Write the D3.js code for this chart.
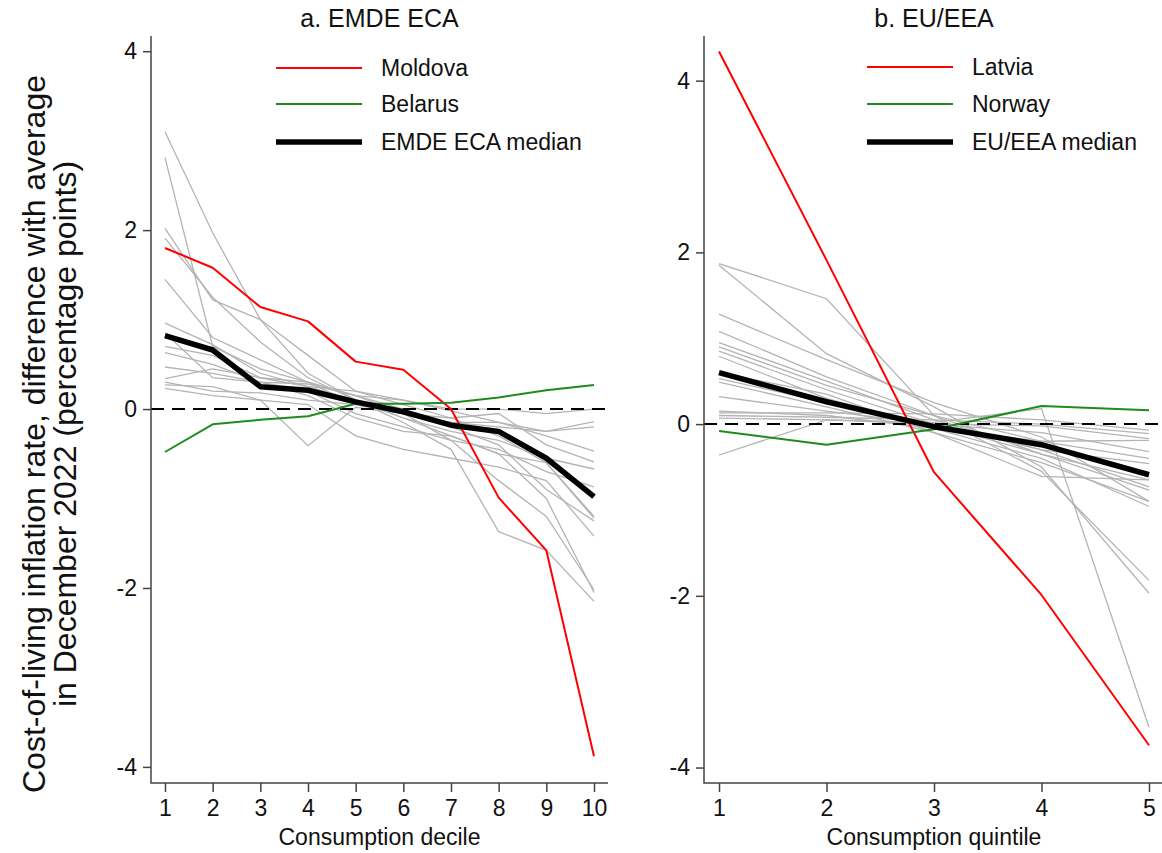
<!DOCTYPE html>
<html>
<head>
<meta charset="utf-8">
<script src="https://cdn.jsdelivr.net/npm/d3@7"></script>
<style>
  body { margin: 0; background: #fff; }
  svg { display: block; font-family: "Liberation Sans", Arial, sans-serif; }
</style>
</head>
<body>
<svg id="chart" width="1162" height="853"></svg>
<script>
// ---- data ----
const deciles = [1, 2, 3, 4, 5, 6, 7, 8, 9, 10];
const quintiles = [1, 2, 3, 4, 5];
const yTicks = [-4, -2, 0, 2, 4];

// panel a: EMDE ECA
const moldova = [1.80, 1.58, 1.14, 0.98, 0.53, 0.44, 0.00, -0.99, -1.58, -3.88];
const belarus = [-0.48, -0.17, -0.12, -0.08, 0.06, 0.06, 0.07, 0.13, 0.21, 0.27];
const ecaMedian = [0.82, 0.66, 0.25, 0.21, 0.08, -0.03, -0.18, -0.25, -0.55, -0.98];
const ecaOthers = [
  [3.10, 1.97, 1.00, 0.40, 0.10, -0.10, -0.30, -0.50, -1.00, -2.05],
  [2.81, 0.70, 0.45, 0.30, 0.15, 0.00, -0.20, -0.40, -0.90, -1.25],
  [2.02, 1.22, 1.00, 0.60, 0.20, 0.05, -0.10, -0.30, -0.60, -1.20],
  [1.91, 1.25, 0.75, 0.35, 0.10, -0.15, -0.45, -1.37, -1.58, -2.15],
  [1.45, 0.80, 0.55, 0.30, 0.15, -0.05, -0.35, -0.80, -1.20, -2.02],
  [0.96, 0.72, 0.40, 0.25, 0.20, 0.10, -0.02, -0.15, -0.25, -0.14],
  [0.70, 0.60, 0.35, 0.30, 0.05, -0.05, -0.15, -0.15, -0.30, -0.47],
  [0.63, 0.50, 0.30, 0.28, 0.15, 0.10, 0.00, 0.00, -0.05, 0.00],
  [0.47, 0.40, 0.30, 0.20, -0.05, -0.20, -0.35, -0.45, -0.70, -0.87],
  [0.34, 0.45, 0.35, 0.25, 0.10, -0.10, -0.25, -0.35, -0.55, -0.67],
  [0.27, 0.25, 0.10, -0.41, 0.02, -0.05, -0.15, -0.20, -0.25, -0.20],
  [0.23, 0.15, 0.10, 0.05, -0.30, -0.45, -0.55, -0.65, -0.80, -1.42],
  [0.30, 0.20, 0.18, 0.10, 0.05, -0.05, -0.10, -0.05, -0.40, -0.59],
  [0.85, 0.35, 0.30, 0.15, -0.10, -0.25, -0.30, -0.50, -0.60, -1.22]
];

// panel b: EU/EEA
const latvia = [4.34, 1.91, -0.56, -1.99, -3.74];
const norway = [-0.08, -0.24, -0.06, 0.21, 0.16];
const euMedian = [0.60, 0.26, -0.03, -0.24, -0.59];
const euOthers = [
  [1.87, 1.46, 0.10, -0.20, -0.40],
  [1.85, 0.82, 0.20, -0.50, -1.97],
  [1.28, 0.75, 0.25, -0.15, -0.90],
  [1.08, 0.55, 0.10, -0.35, -0.65],
  [0.95, 0.50, 0.05, -0.30, -0.73],
  [0.90, 0.45, 0.10, -0.55, -1.82],
  [0.85, 0.40, 0.00, -0.35, -0.77],
  [0.79, 0.30, -0.05, -0.40, -0.96],
  [0.53, 0.25, 0.00, -0.30, -0.46],
  [0.49, 0.20, -0.10, -0.61, -0.65],
  [0.32, 0.15, 0.00, -0.10, -0.32],
  [0.13, 0.13, 0.12, 0.05, -0.07],
  [0.10, 0.08, 0.05, 0.00, -0.11],
  [0.07, 0.05, 0.02, 0.18, -3.53],
  [-0.36, 0.05, 0.00, -0.02, -0.17],
  [0.15, 0.10, -0.05, -0.20, -0.19],
  [0.60, 0.35, -0.10, -0.45, -0.90]
];

const svg = d3.select("#chart");
const RED = "#ff0000", GREEN = "#1f8b1f", GREY = "#b4b4b4";
const fmt = d => String(d);

function panel(opt) {
  const g = svg.append("g");
  const x = d3.scaleLinear().domain([opt.cats[0], opt.cats[opt.cats.length - 1]]).range(opt.xr);
  const y = d3.scaleLinear().domain(opt.yd).range([783, 36]);
  const left = opt.xr[0] - opt.pad, right = opt.xr[1] + opt.pad;

  const line = d3.line().x((d, i) => x(opt.cats[i])).y(d => y(d));

  // grey country lines
  g.append("g").selectAll("path").data(opt.others).join("path")
    .attr("d", line).attr("fill", "none")
    .attr("stroke", GREY).attr("stroke-width", 1.3);

  // zero reference
  g.append("line")
    .attr("x1", left).attr("x2", opt.zeroEnd)
    .attr("y1", y(0)).attr("y2", y(0))
    .attr("stroke", "#000").attr("stroke-width", 2)
    .attr("stroke-dasharray", "13,8");

  const hl = [
    { v: opt.red, c: RED, w: 2 },
    { v: opt.green, c: GREEN, w: 2 },
    { v: opt.median, c: "#000", w: 5.5 }
  ];
  g.append("g").selectAll("path").data(hl).join("path")
    .attr("d", d => line(d.v)).attr("fill", "none")
    .attr("stroke", d => d.c).attr("stroke-width", d => d.w)
    .attr("stroke-linejoin", "round");

  // axes
  const ya = g.append("g").attr("transform", `translate(${left},0)`)
    .call(d3.axisLeft(y).tickValues(yTicks).tickSize(8).tickPadding(6).tickFormat(fmt));
  ya.select(".domain").remove();
  const xa = g.append("g").attr("transform", "translate(0,783)")
    .call(d3.axisBottom(x).tickValues(opt.cats).tickSize(9).tickPadding(8).tickFormat(fmt));
  xa.select(".domain").remove();
  [ya, xa].forEach(a => {
    a.selectAll(".tick line").attr("stroke", "#444").attr("stroke-width", 1.5);
    a.selectAll("text").attr("font-size", 23).attr("fill", "#111").attr("font-family", null);
  });
  g.append("path")
    .attr("d", `M${left},36V783H${right}`)
    .attr("fill", "none").attr("stroke", "#444").attr("stroke-width", 1.5);

  // titles
  g.append("text").attr("x", (left + right) / 2).attr("y", 27)
    .attr("text-anchor", "middle").attr("font-size", 25).attr("fill", "#111")
    .text(opt.title);
  g.append("text").attr("x", (opt.xr[0] + opt.xr[1]) / 2).attr("y", 845)
    .attr("text-anchor", "middle").attr("font-size", 23).attr("fill", "#111")
    .text(opt.xTitle);

  // legend
  const lg = g.append("g").selectAll("g").data(hl.map((d, i) => ({ ...d, name: opt.names[i] }))).join("g")
    .attr("transform", (d, i) => `translate(${opt.legX},${opt.legY[i]})`);
  lg.append("line").attr("x1", 0).attr("x2", 86)
    .attr("stroke", d => d.c).attr("stroke-width", d => d.w);
  lg.append("text").attr("x", 105).attr("dy", "0.35em")
    .attr("font-size", 23).attr("fill", "#111").text(d => d.name);
}

panel({
  cats: deciles, xr: [165, 594], pad: 14, yd: [-4.18, 4.17], zeroEnd: 612,
  others: ecaOthers, red: moldova, green: belarus, median: ecaMedian,
  title: "a. EMDE ECA", xTitle: "Consumption decile",
  names: ["Moldova", "Belarus", "EMDE ECA median"], legX: 276, legY: [68, 104, 142]
});
panel({
  cats: quintiles, xr: [719, 1149], pad: 15, yd: [-4.18, 4.52], zeroEnd: 1162,
  others: euOthers, red: latvia, green: norway, median: euMedian,
  title: "b. EU/EEA", xTitle: "Consumption quintile",
  names: ["Latvia", "Norway", "EU/EEA median"], legX: 867, legY: [67, 104, 142]
});

// shared y title
const yt = svg.append("text")
  .attr("transform", "translate(0,434) rotate(-90)")
  .attr("text-anchor", "middle").attr("font-size", 32).attr("fill", "#111");
yt.append("tspan").attr("x", 0).attr("y", 45).text("Cost-of-living inflation rate, difference with average");
yt.append("tspan").attr("x", 0).attr("y", 76).text("in December 2022 (percentage points)");
</script>
</body>
</html>
